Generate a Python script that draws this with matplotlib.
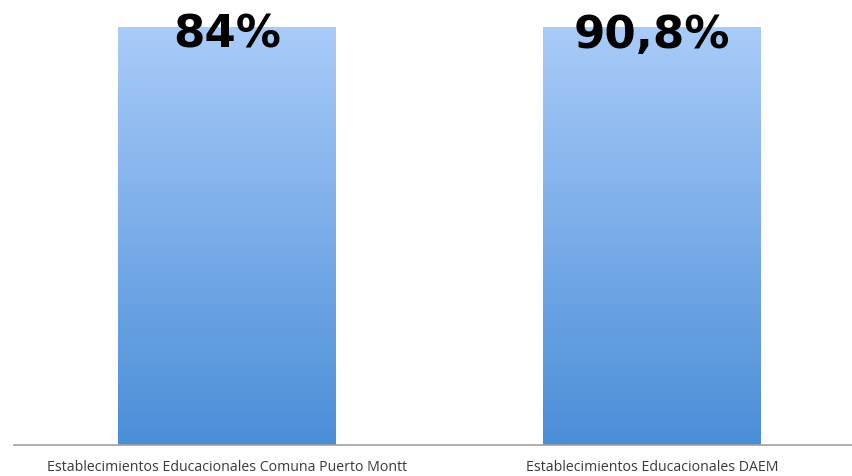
import numpy as np
import matplotlib.pyplot as plt
from matplotlib.colors import LinearSegmentedColormap

categories = ["Establecimientos Educacionales Comuna Puerto Montt",
              "Establecimientos Educacionales DAEM"]
percent_labels = ["84%", "90,8%"]
bar_heights = [100, 100]  # both bars reach the same height in the picture

fig = plt.figure(figsize=(8.52, 4.76), dpi=100)
ax = fig.add_axes([14 / 852, 31 / 476, 838 / 852, 418 / 476])

x = np.arange(len(categories))
bars = ax.bar(x, bar_heights, width=0.512, color="none", edgecolor="none")

cmap = LinearSegmentedColormap.from_list("grad", ["#4a8ed8", "#a9cbf9"])
grad = np.linspace(0, 1, 256).reshape(-1, 1)
for b in bars:
    x0, y0 = b.get_x(), b.get_y()
    w, h = b.get_width(), b.get_height()
    im = ax.imshow(grad, cmap=cmap, origin="lower", aspect="auto",
                   extent=[x0, x0 + w, y0, y0 + h], zorder=2)
    im.set_clip_path(b)

ax.set_xlim(-0.5, 1.47)
ax.set_ylim(0, 100)

for xi, h, lab in zip(x, bar_heights, percent_labels):
    ax.text(xi, h * 0.95, lab, ha="center", va="baseline", fontsize=32.5,
            fontweight="bold", family="DejaVu Sans", color="black",
            zorder=3)

ax.set_xticks(x)
ax.set_xticklabels(categories, fontsize=10.2,
                   family=["Liberation Sans Narrow", "Open Sans", "DejaVu Sans"],
                   color="#3a3a3a")
ax.tick_params(axis="x", length=0, pad=11)
ax.set_yticks([])
for s in ["top", "right", "left"]:
    ax.spines[s].set_visible(False)
ax.spines["bottom"].set_color("#a0a0a0")
ax.spines["bottom"].set_linewidth(1.2)

fig.savefig("out.png", dpi=100)
